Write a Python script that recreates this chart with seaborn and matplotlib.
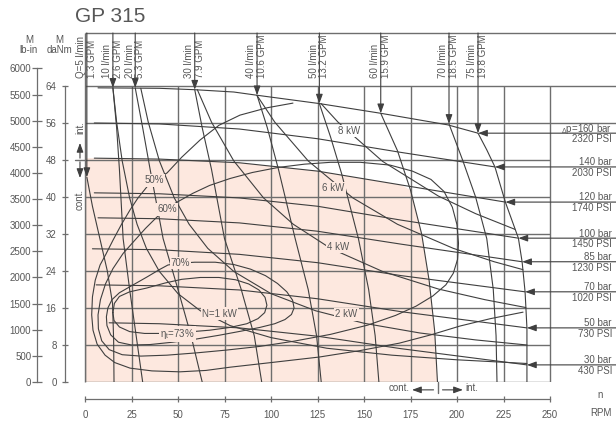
import matplotlib
matplotlib.use("Agg")
import matplotlib.pyplot as plt
import pandas as pd
import seaborn as sns

# ---------------- scales ----------------
rpm_ticks = [0, 25, 50, 75, 100, 125, 150, 175, 200, 225, 250]
danm_ticks = [0, 8, 16, 24, 32, 40, 48, 56, 64]
lbin_ticks = [0, 500, 1000, 1500, 2000, 2500, 3000, 3500, 4000, 4500, 5000, 5500, 6000]

# ---------------- pressure-drop lines (speed RPM, torque daNm) ----------------
pressure_bar = [160, 140, 120, 100, 85, 70, 50, 30]
pressure_psi = [2320, 2030, 1740, 1450, 1230, 1020, 730, 430]

dp160_rpm = [7, 40, 59, 80, 92.5, 126, 159, 195, 211.3]
dp160_nm = [63.6, 63.5, 63.2, 62.7, 62.0, 60.2, 58.1, 55.6, 53.8]
dp140_rpm = [5, 40, 83, 125, 169, 220.4]
dp140_nm = [56.0, 55.8, 54.7, 52.6, 49.7, 46.5]
dp120_rpm = [5, 40, 83, 125, 170, 226]
dp120_nm = [48.4, 48.2, 47.4, 45.6, 42.6, 38.9]
dp100_rpm = [5, 40, 83, 125, 170, 233]
dp100_nm = [40.9, 40.7, 39.8, 38.0, 35.0, 31.1]
dp85_rpm = [7, 40, 83, 125, 170, 235]
dp85_nm = [35.5, 35.3, 34.4, 32.6, 29.8, 26.0]
dp70_rpm = [4, 40, 83, 125, 170, 236.6]
dp70_nm = [28.8, 28.6, 27.6, 25.8, 23.0, 19.5]
dp50_rpm = [6, 40, 83, 125, 170, 237.6]
dp50_nm = [21.0, 20.8, 19.9, 18.0, 15.2, 11.7]
dp30_rpm = [13, 40, 83, 125, 170, 237.6]
dp30_nm = [12.8, 12.6, 11.7, 9.9, 7.2, 3.7]

# ---------------- flow lines ----------------
flow_lpm = ["Q=5", "10", "20", "30", "40", "50", "60", "70", "75"]
flow_gpm = ["1.3", "2.6", "5.3", "7.9", "10.6", "13.2", "15.9", "18.5", "19.8"]

q5_rpm = [1, 4, 8, 12, 14.8, 15.4, 15.6]
q5_nm = [44.3, 38.0, 31.0, 24.0, 17.0, 9.0, 0]
q10_rpm = [15, 17, 18.5, 20.5, 24, 27.5, 31]
q10_nm = [63.6, 55, 46, 31, 20, 10, 0]
q20_rpm = [27, 31, 35, 42, 50, 57, 63]
q20_nm = [63.6, 55, 46, 31, 20, 10, 0]
q30_rpm = [59, 63, 68, 75, 84, 91, 95]
q30_nm = [63.2, 55, 46, 31, 20, 10, 0]
q40_rpm = [92.5, 98, 104, 113, 120, 124.5, 127]
q40_nm = [62.0, 55, 46, 31, 20, 10, 0]
q50_rpm = [126, 132, 138, 147, 152.5, 156, 158]
q50_nm = [60.2, 53, 45, 31, 20, 10, 0]
q60_rpm = [159, 168, 175, 181, 185, 188, 189.5]
q60_nm = [58.1, 50, 41.5, 32, 22, 11, 0]
q70_rpm = [195.7, 203, 210, 216, 219.5, 221, 221.5]
q70_nm = [55.8, 48, 40, 31, 20, 10, 0]
q75_rpm = [211.3, 216, 220.4, 226, 233, 235, 236.6, 237.6, 237.6]
q75_nm = [53.8, 50.2, 46.5, 38.9, 31.1, 26.0, 19.5, 11.7, 0]

# ---------------- output power lines ----------------
kw1_rpm = [15, 17, 20, 24, 28, 33, 40, 50, 62, 78, 100, 130, 165, 200, 237.6]
kw1_nm = [63.6, 56.2, 47.8, 39.8, 34.1, 28.9, 23.9, 19.1, 15.4, 12.2, 9.6, 7.3, 5.8, 4.8, 4.0]
kw2_rpm = [30, 34, 40, 48, 56, 66, 80, 100, 124, 150, 180, 210, 237.6]
kw2_nm = [63.5, 56.2, 47.8, 39.8, 34.1, 28.9, 23.9, 19.1, 15.4, 12.7, 10.6, 9.1, 8.0]
kw4_rpm = [60.4, 68, 80, 96, 112, 132, 160, 190, 215, 237]
kw4_nm = [63.2, 56.2, 47.8, 39.8, 34.1, 28.9, 23.9, 20.1, 17.8, 16.1]
kw6_rpm = [92.4, 102, 120, 144, 168, 198, 220, 235.4]
kw6_nm = [62.0, 56.2, 47.8, 39.8, 34.1, 28.9, 26.0, 24.3]
kw8_rpm = [126.9, 136, 160, 190, 210, 231.2]
kw8_nm = [60.2, 56.2, 47.7, 40.2, 36.4, 33.0]

# ---------------- total efficiency contours ----------------
eff50_rpm = [111.8, 98, 83.3, 72, 61.8, 52, 44.1, 37.4, 33.3, 28.5, 24.2, 19.5, 15.1,
             11.2, 8.1, 5.5, 4.0, 3.6, 4.3, 6.5, 10.8, 16, 24.2, 36, 51, 65, 78, 100,
             126, 148, 169, 186, 201.6, 218, 235.5]
eff50_nm = [60.3, 59.3, 57.7, 55.5, 52.3, 48.6, 45.2, 43.6, 42.2, 39.8, 37.2, 34.0, 30.7,
            27.6, 25.3, 22.0, 18.4, 14.5, 11.2, 8.2, 5.8, 4.2, 3.0, 2.4, 2.2, 2.5, 3.2, 4.2,
            5.4, 6.8, 8.4, 10.2, 12.1, 13.7, 15.1]
eff60_rpm = [44.1, 50, 58, 67, 78, 90, 104, 118, 132, 148, 164, 176, 186, 193, 197.5,
             200, 200.8, 200.3, 198, 194, 187, 178, 167, 152, 132, 112, 94, 76, 60, 44,
             30, 20, 13, 9, 7.2, 7.0, 8.3, 11, 15, 20.5, 26.9, 32.5, 38.5, 44.1]
eff60_nm = [37.6, 39.0, 40.8, 42.5, 44.0, 45.3, 46.4, 47.1, 47.5, 47.5, 46.9, 45.6, 43.8,
            41.2, 37.8, 34.0, 30.0, 26.5, 23.5, 21.0, 18.6, 16.4, 14.4, 12.3, 10.3, 8.8,
            7.7, 6.9, 6.3, 5.8, 5.6, 5.9, 7.0, 8.9, 11.5, 14.5, 17.8, 21.2, 24.5, 27.8,
            30.7, 33.2, 35.6, 37.6]
eff70_rpm = [51.3, 59, 70, 80, 89, 97, 103.5, 108.5, 111.6, 112.4, 111, 107.5, 102, 94,
             84, 72, 60, 47, 35, 25, 18, 13.8, 11.8, 11.5, 12.3, 14.5, 18.5, 25, 33.3, 40,
             44.6, 51.3]
eff70_nm = [25.7, 25.9, 25.9, 25.4, 24.4, 23.0, 21.3, 19.5, 17.7, 16.0, 14.6, 13.5, 12.6,
            11.8, 11.0, 10.1, 9.3, 8.6, 8.1, 8.0, 8.6, 10.2, 12.2, 14.1, 16.0, 17.8, 19.3,
            20.8, 22.7, 24.3, 25.3, 25.7]
eff73_rpm = [15.0, 15.8, 18.5, 24, 33, 43, 52, 62, 72, 81, 88, 93.5, 96.8, 97.8, 96.6,
             93, 87, 78, 67, 55, 43, 32, 24, 18.5, 15.6, 15.0]
eff73_nm = [15.0, 17.0, 18.5, 19.5, 20.3, 21.4, 22.2, 22.6, 22.6, 22.1, 21.2, 19.9, 18.3,
            16.6, 15.0, 13.7, 12.6, 11.8, 11.2, 10.8, 10.5, 10.5, 10.9, 11.9, 13.3, 15.0]

# continuous / intermittent limits
cont_max_rpm = 189.8
cont_max_danm = 48
int_max_danm = 56

# ---------------- style ----------------
W, H = 616, 426
PINK = "#fde8df"
GRID = "#6e6e6e"
LINE = "#3f3f3f"
TXT = "#575757"

sns.set_theme(style="white")
plt.rcParams["font.family"] = ["Liberation Sans", "DejaVu Sans"]
plt.rcParams["mathtext.fontset"] = "custom"
plt.rcParams["mathtext.rm"] = "Liberation Sans"
plt.rcParams["mathtext.it"] = "Liberation Sans"

fig = plt.figure(figsize=(W / 100, H / 100), dpi=100)
fig.patch.set_facecolor("white")

# main panel: 1.86 px per RPM, 4.625 px per daNm
X0, X1, Y0, Y1 = 85, 616, 382, 33
x_max = (X1 - X0) / 1.86
y_max = (Y0 - Y1) / 4.625
ax = fig.add_axes([X0 / W, (H - Y0) / H, (X1 - X0) / W, (Y0 - Y1) / H])
ax.set_facecolor("none")

# continuous-duty region
pink_x = [0, 0] + [x for x in dp120_rpm if x <= 170] + [x for x, y in zip(q60_rpm, q60_nm) if y < 42.6]
pink_y = [0, dp120_nm[0]] + [y for x, y in zip(dp120_rpm, dp120_nm) if x <= 170] + [y for y in q60_nm if y < 42.6]
ax.fill(pink_x, pink_y, color=PINK, lw=0, zorder=0)

# grid and frame
ax.vlines(rpm_ticks, 0, danm_ticks[-1], colors=GRID, lw=1.0, zorder=1)
short = [t for t in danm_ticks if t not in (int_max_danm, danm_ticks[-1])]
ax.hlines(short, 0, rpm_ticks[-1], colors=GRID, lw=1.0, zorder=1)
ax.hlines([int_max_danm, danm_ticks[-1], y_max], 0, x_max, colors=GRID, lw=1.0, zorder=1, clip_on=False)
ax.vlines([0], 0, y_max, colors=GRID, lw=1.0, zorder=1, clip_on=False)

# all curves in one long table
curves = {
    "p160": (dp160_rpm, dp160_nm), "p140": (dp140_rpm, dp140_nm), "p120": (dp120_rpm, dp120_nm),
    "p100": (dp100_rpm, dp100_nm), "p85": (dp85_rpm, dp85_nm), "p70": (dp70_rpm, dp70_nm),
    "p50": (dp50_rpm, dp50_nm), "p30": (dp30_rpm, dp30_nm),
    "q5": (q5_rpm, q5_nm), "q10": (q10_rpm, q10_nm), "q20": (q20_rpm, q20_nm),
    "q30": (q30_rpm, q30_nm), "q40": (q40_rpm, q40_nm), "q50": (q50_rpm, q50_nm),
    "q60": (q60_rpm, q60_nm), "q70": (q70_rpm, q70_nm), "q75": (q75_rpm, q75_nm),
    "kw1": (kw1_rpm, kw1_nm), "kw2": (kw2_rpm, kw2_nm), "kw4": (kw4_rpm, kw4_nm),
    "kw6": (kw6_rpm, kw6_nm), "kw8": (kw8_rpm, kw8_nm),
    "e50": (eff50_rpm, eff50_nm), "e60": (eff60_rpm, eff60_nm),
    "e70": (eff70_rpm, eff70_nm), "e73": (eff73_rpm, eff73_nm),
}
rows = []
for name, (xs, ys) in curves.items():
    for i, (x, y) in enumerate(zip(xs, ys)):
        rows.append({"curve": name, "step": i, "rpm": x, "danm": y})
table = pd.DataFrame(rows)
sns.lineplot(data=table, x="rpm", y="danm", units="curve", estimator=None, sort=False,
             color=LINE, lw=0.8, ax=ax, legend=False, zorder=2)

ax.set_xlim(0, x_max)
ax.set_ylim(0, y_max)
ax.axis("off")

arrow = dict(arrowstyle="-|>,head_length=0.55,head_width=0.2", color=LINE, lw=0.8,
             shrinkA=0, shrinkB=0, mutation_scale=10)

# flow arrows and labels along the top
flow_tips = [(q5_rpm[0], q5_nm[0]), (q10_rpm[0], q10_nm[0]), (q20_rpm[0], q20_nm[0]),
             (q30_rpm[0], q30_nm[0]), (q40_rpm[0], q40_nm[0]), (q50_rpm[0], q50_nm[0]),
             (q60_rpm[0], q60_nm[0]), (q70_rpm[0], q70_nm[0]), (q75_rpm[0], q75_nm[0])]
label_base = 65.7
for (tx, ty), lpm, gpm in zip(flow_tips, flow_lpm, flow_gpm):
    ax.annotate("", xy=(tx, ty), xytext=(tx, y_max), arrowprops=arrow, annotation_clip=False)
    ax.text(tx - 3.0, label_base, f"{lpm} l/min", rotation=90, rotation_mode="anchor",
            ha="left", va="center", fontsize=7, color=TXT)
    ax.text(tx + 2.6, label_base, f"{gpm} GPM", rotation=90, rotation_mode="anchor",
            ha="left", va="center", fontsize=7, color=TXT)

# pressure arrows and labels on the right
p_tips = [(dp160_rpm[-1], dp160_nm[-1]), (dp140_rpm[-1], dp140_nm[-1]), (dp120_rpm[-1], dp120_nm[-1]),
          (dp100_rpm[-1], dp100_nm[-1]), (dp85_rpm[-1], dp85_nm[-1]), (dp70_rpm[-1], dp70_nm[-1]),
          (dp50_rpm[-1], dp50_nm[-1]), (dp30_rpm[-1], dp30_nm[-1])]
text_right = (612 - X0) / 1.86
for i, ((tx, ty), bar, psi) in enumerate(zip(p_tips, pressure_bar, pressure_psi)):
    ax.annotate("", xy=(tx, ty), xytext=(x_max, ty), arrowprops=arrow, annotation_clip=False)
    top = (r"$_{\Delta}$p=" if i == 0 else "") + f"{bar} bar"
    ax.text(text_right, ty + 0.35, top, ha="right", va="baseline", fontsize=7, color=TXT)
    ax.text(text_right, ty - 0.25, f"{psi} PSI", ha="right", va="top", fontsize=7, color=TXT)

# curve labels
def tag(x, y, s, bg):
    ax.text(x, y, s, ha="center", va="center", fontsize=7, color=TXT, zorder=3,
            bbox=dict(boxstyle="square,pad=0.12", fc=bg, ec="none"))

tag(142.2, 54.2, "8 kW", "white")
tag(133.6, 41.9, "6 kW", PINK)
tag(136.0, 29.2, "4 kW", PINK)
tag(140.6, 14.6, "2 kW", PINK)
tag(72.3, 14.8, "N=1 kW", PINK)
tag(37.4, 43.6, "50%", PINK)
tag(44.1, 37.3, "60%", PINK)
tag(51.3, 25.7, "70%", PINK)
tag(49.7, 10.4, r"$\eta_t$=73%", PINK)

# cont./int. markers, torque side
ax.plot([-5.4, 0], [cont_max_danm, cont_max_danm], color=GRID, lw=1.0, clip_on=False)
ax.annotate("", xy=(-2.7, 51.7), xytext=(-2.7, 48.4), arrowprops=arrow, annotation_clip=False)
ax.annotate("", xy=(-2.7, 44.1), xytext=(-2.7, 47.6), arrowprops=arrow, annotation_clip=False)
ax.text(-2.7, 53.6, "int.", rotation=90, rotation_mode="anchor", ha="left", va="center",
        fontsize=7, color=TXT)
ax.text(-2.7, 41.7, "cont.", rotation=90, rotation_mode="anchor", ha="right", va="center",
        fontsize=7, color=TXT)

# cont./int. markers, speed side
ax.plot([cont_max_rpm, cont_max_rpm], [0, -2.4], color=GRID, lw=1.0, clip_on=False)
ax.annotate("", xy=(175.8, -1.7), xytext=(187.4, -1.7), arrowprops=arrow, annotation_clip=False)
ax.annotate("", xy=(203.2, -1.7), xytext=(192.2, -1.7), arrowprops=arrow, annotation_clip=False)
ax.text(174.6, -1.4, "cont.", ha="right", va="center", fontsize=7, color=TXT)
ax.text(204.6, -1.4, "int.", ha="left", va="center", fontsize=7, color=TXT)

# speed scale
ax_n = fig.add_axes([X0 / W, (H - 399) / H, 465 / W, 0.0001])
ax_n.set_facecolor("none")
ax_n.set_xlim(0, 250)
ax_n.set_xticks(rpm_ticks)
ax_n.set_yticks([])
for s in ("top", "left", "right"):
    ax_n.spines[s].set_visible(False)
ax_n.spines["bottom"].set_color(GRID)
ax_n.spines["bottom"].set_linewidth(0.9)
ax_n.tick_params(axis="x", direction="inout", length=5, width=0.9, color=GRID,
                 labelcolor=TXT, labelsize=7, pad=5.2, bottom=True)

# torque scale, daNm
ax_d = fig.add_axes([65 / W, (H - Y0) / H, 0.0001, 296 / H])
ax_d.set_facecolor("none")
ax_d.set_ylim(0, 64)
ax_d.set_yticks(danm_ticks)
ax_d.set_xticks([])
for s in ("top", "bottom", "right"):
    ax_d.spines[s].set_visible(False)
ax_d.spines["left"].set_color(GRID)
ax_d.spines["left"].set_linewidth(0.9)
ax_d.tick_params(axis="y", direction="inout", length=5, width=0.9, color=GRID,
                 labelcolor=TXT, labelsize=7, pad=3.6, left=True)

# torque scale, lb-in (1 daNm = 88.5 lb-in)
lb_top = 6000 / 88.5 * 4.625
ax_l = fig.add_axes([37 / W, (H - Y0) / H, 0.0001, lb_top / H])
ax_l.set_facecolor("none")
ax_l.set_ylim(0, 6000)
ax_l.set_yticks(lbin_ticks)
ax_l.set_xticks([])
for s in ("top", "bottom", "right"):
    ax_l.spines[s].set_visible(False)
ax_l.spines["left"].set_color(GRID)
ax_l.spines["left"].set_linewidth(0.9)
ax_l.tick_params(axis="y", direction="inout", length=7, width=0.9, color=GRID,
                 labelcolor=TXT, labelsize=7, pad=0.6, left=True)

# headings
fig.text(75 / W, (H - 21.7) / H, "GP 315", fontsize=15, color=TXT, ha="left", va="baseline")
fig.text(29 / W, (H - 40) / H, "M", fontsize=7, color=TXT, ha="center", va="center")
fig.text(29 / W, (H - 50) / H, "lb-in", fontsize=7, color=TXT, ha="center", va="center")
fig.text(59.5 / W, (H - 40) / H, "M", fontsize=7, color=TXT, ha="center", va="center")
fig.text(59.5 / W, (H - 50) / H, "daNm", fontsize=7, color=TXT, ha="center", va="center")
fig.text(600 / W, (H - 395) / H, "n", fontsize=7, color=TXT, ha="center", va="center")
fig.text(612 / W, (H - 413) / H, "RPM", fontsize=7, color=TXT, ha="right", va="center")

fig.savefig("out.png", dpi=100, facecolor="white")
